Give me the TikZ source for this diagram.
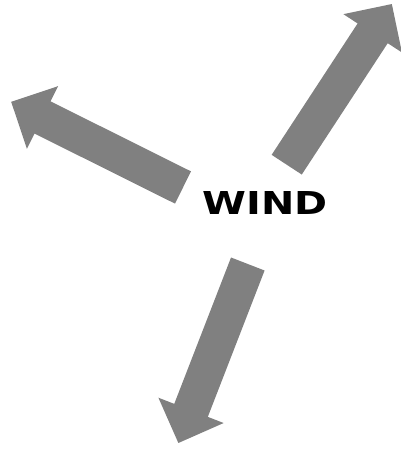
\documentclass[tikz,border=0pt]{standalone}
\usepackage{fontspec}
\setsansfont{DejaVu Sans}
\usepackage{graphicx}

\definecolor{windgray}{RGB}{128,128,128}
\tikzset{
    windarrow/.style={fill=windgray, draw=none},
    windlabel/.style={inner sep=0pt, font=\sffamily\bfseries}
}
% one thick arrow: tail centre, direction
\newcommand{\windarrow}[2]{%
    \fill[windarrow, shift={(#1)}, rotate=#2]
        (0,-18) -- (157,-18) -- (157,-35) -- (192,0) -- (157,35) -- (157,18) -- (0,18) -- cycle;}

\begin{document}
\begin{tikzpicture}[x=1pt, y=1pt]
    \useasboundingbox (0,0) rectangle (400,449);

    % Arrows
    \windarrow{286.7,284.3}{56.8}
    \windarrow{183,261.5}{153.5}
    \windarrow{247.8,185}{248.8}

    % Label
    \node[windlabel] (wind) at (265,245.7) {\resizebox{125pt}{23pt}{WIND}};
\end{tikzpicture}
\end{document}
